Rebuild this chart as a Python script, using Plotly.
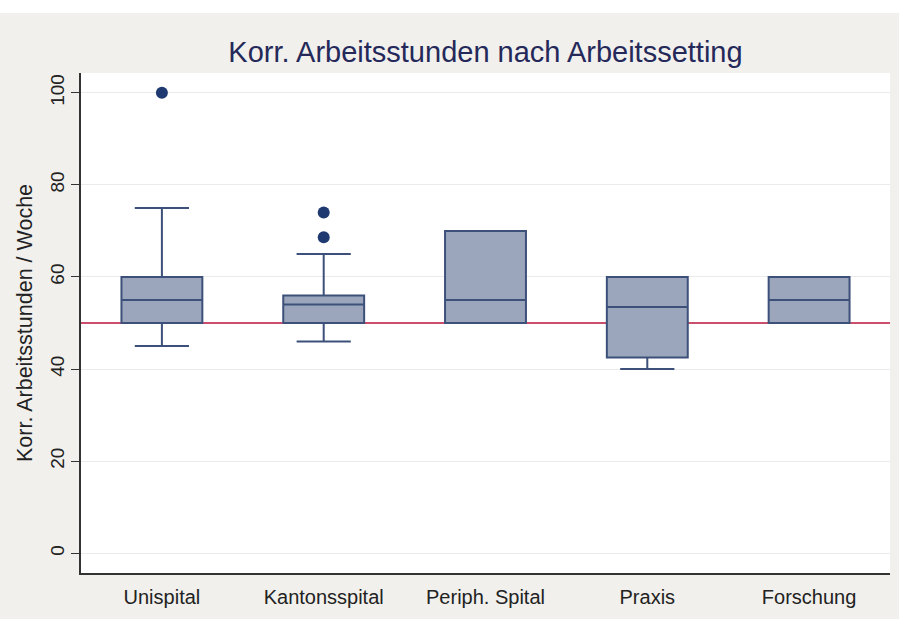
import plotly.graph_objects as go

categories = ["Unispital", "Kantonsspital", "Periph. Spital", "Praxis", "Forschung"]
q1 = [50, 50, 50, 42.5, 50]
median = [55, 54, 55, 53.5, 55]
q3 = [60, 56, 70, 60, 60]
lower_whisker = [45, 46, 50, 40, 50]
upper_whisker = [75, 65, 70, 60, 60]
outlier_cats = ["Unispital", "Kantonsspital", "Kantonsspital"]
outlier_vals = [100, 74, 68.6]
reference_value = 50
y_ticks = [0, 20, 40, 60, 80, 100]

FONT = "Liberation Sans, Arial, sans-serif"
BOX_FILL = "#9ba6bd"
BOX_LINE = "#3d5079"
DOT = "#1f3a70"
BG = "#f1f0ec"

fig = go.Figure()
fig.add_trace(go.Box(
    x=categories, q1=q1, median=median, q3=q3,
    lowerfence=lower_whisker, upperfence=upper_whisker,
    fillcolor=BOX_FILL, line=dict(color=BOX_LINE, width=2),
    width=0.5, whiskerwidth=0.67, boxpoints=False, showlegend=False,
    hoverinfo="skip",
))
fig.add_trace(go.Scatter(
    x=outlier_cats, y=outlier_vals, mode="markers",
    marker=dict(color=DOT, size=12), showlegend=False, hoverinfo="skip",
))

fig.add_shape(type="line", xref="paper", yref="y", x0=0, x1=1,
              y0=reference_value, y1=reference_value,
              line=dict(color="#b8143c", width=1.5), layer="below")
# white strip at top of the figure
fig.add_shape(type="rect", xref="paper", yref="paper", x0=-0.2, x1=1.2,
              y0=1.12, y1=1.2, fillcolor="white", line=dict(width=0), layer="below")

fig.update_layout(
    width=899, height=619,
    margin=dict(l=81, r=9, t=73, b=46),
    paper_bgcolor=BG, plot_bgcolor="white",
    font=dict(family=FONT, color="#222222"),
    title=dict(text="Korr. Arbeitsstunden nach Arbeitssetting",
               font=dict(family=FONT, size=29, color="#25295a"),
               x=0.5, xanchor="center", xref="paper", y=1 - 52 / 619, yanchor="middle"),
    xaxis=dict(type="category", categoryorder="array", categoryarray=categories,
               range=[-0.5, 4.5], showgrid=False, showline=True, linecolor="#333333",
               linewidth=1.5, ticks="outside", ticklen=5, tickcolor="rgba(0,0,0,0)",
               tickfont=dict(size=20, color="#222222"),
               zeroline=False, fixedrange=True),
    yaxis=dict(range=[-4.3, 104.3], tickvals=y_ticks, showgrid=True, gridcolor="#ebebeb",
               gridwidth=1, showline=True, linecolor="#333333", linewidth=1.5,
               ticks="outside", ticklen=8, tickcolor="#333333", tickangle=-90,
               tickfont=dict(size=19, color="#222222"), zeroline=False,
               title=dict(text="Korr. Arbeitsstunden / Woche",
                          font=dict(size=21.5, color="#222222"), standoff=8)),
)

fig.write_html("out.html", config={"displayModeBar": False},
               post_script="document.body.style.margin='0';document.body.style.padding='0';")
